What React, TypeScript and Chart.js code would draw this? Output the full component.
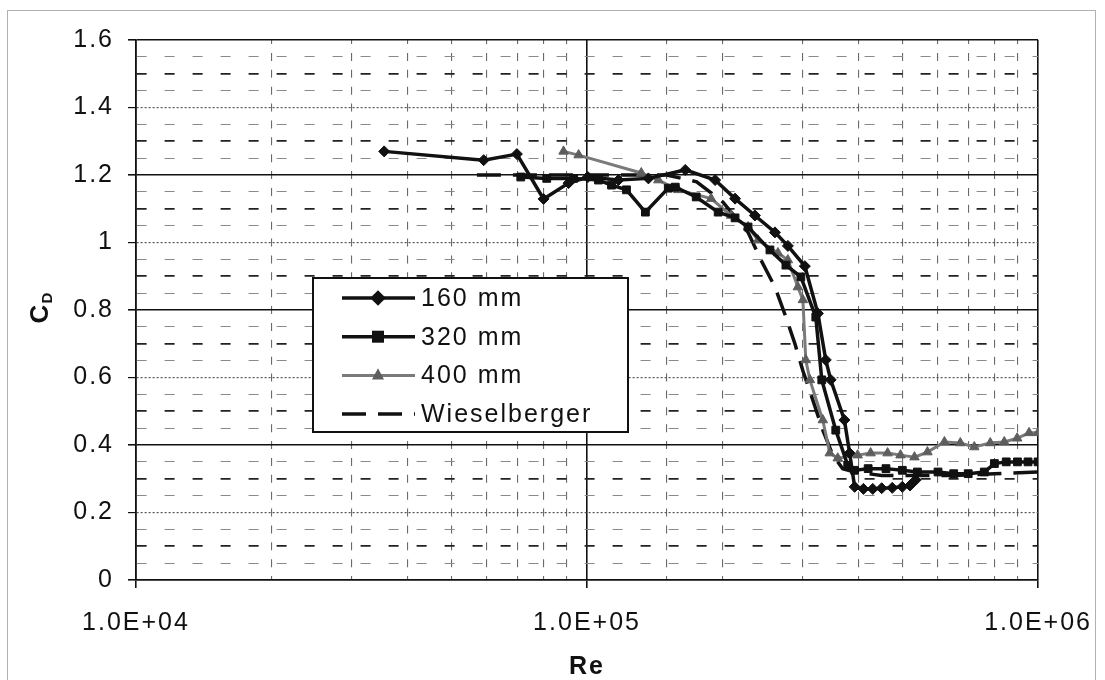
import React, { useEffect, useRef } from "react";
import { Chart, registerables } from "chart.js";

Chart.register(...registerables);

// ---- data (Re, C_D) ----
const re160 = [35500, 59000, 69900, 80100, 91000, 100400, 117400, 136800, 165100, 192300, 212900, 235600, 261000, 278800, 304000, 324900, 338300, 346900, 372000, 382100, 392000, 410000, 430000, 450000, 475000, 500000, 520000, 535000];
const cd160 = [1.27, 1.244, 1.262, 1.129, 1.176, 1.194, 1.185, 1.19, 1.215, 1.185, 1.13, 1.08, 1.03, 0.99, 0.93, 0.79, 0.652, 0.593, 0.474, 0.376, 0.276, 0.27, 0.27, 0.272, 0.273, 0.276, 0.28, 0.296];

const re320 = [71300, 81400, 93400, 106000, 113300, 122300, 134700, 151400, 156900, 174600, 195300, 212900, 227500, 254400, 276000, 297900, 321500, 331500, 356000, 378400, 392000, 420000, 460000, 500000, 540000, 600000, 650000, 700000, 760000, 800000, 850000, 900000, 950000, 1000000];
const cd320 = [1.194, 1.19, 1.19, 1.185, 1.17, 1.156, 1.09, 1.161, 1.164, 1.135, 1.09, 1.073, 1.046, 0.978, 0.933, 0.898, 0.779, 0.593, 0.444, 0.34, 0.325, 0.33, 0.33, 0.325, 0.32, 0.32, 0.315, 0.315, 0.32, 0.345, 0.35, 0.35, 0.35, 0.35];

const re400 = [88700, 95800, 131900, 143900, 159300, 188400, 208700, 227500, 239300, 265000, 278800, 293400, 301000, 305500, 311900, 333200, 345200, 359600, 398100, 425300, 463800, 495500, 532100, 568500, 620000, 672300, 722000, 783300, 841400, 898700, 955000, 1000000];
const cd400 = [1.27, 1.259, 1.206, 1.185, 1.156, 1.13, 1.08, 1.046, 1.007, 0.969, 0.948, 0.868, 0.83, 0.652, 0.593, 0.474, 0.376, 0.361, 0.37, 0.376, 0.376, 0.37, 0.364, 0.379, 0.409, 0.406, 0.394, 0.406, 0.409, 0.42, 0.436, 0.436];

const reWies = [57000, 70000, 85000, 100000, 125000, 150000, 175000, 200000, 227500, 243000, 261000, 276000, 289000, 301000, 316700, 333200, 350600, 368800, 392000, 450000, 550000, 650000, 800000, 1000000];
const cdWies = [1.2, 1.2, 1.2, 1.2, 1.2, 1.2, 1.18, 1.12, 1.03, 0.948, 0.868, 0.779, 0.7, 0.62, 0.533, 0.444, 0.37, 0.33, 0.32, 0.31, 0.31, 0.31, 0.315, 0.32];

const seriesNames = ["160 mm", "320 mm", "400 mm", "Wieselberger"];
const xMin = 1e4;
const xMax = 1e6;
const yMin = 0;
const yMax = 1.6;
const yStep = 0.05;
const xTitle = "Re";
const yTitleMain = "C";
const yTitleSub = "D";

const pts = (xs: number[], ys: number[]) => xs.map((x, i) => ({ x, y: ys[i] }));

const fmtSci = (v: number) => {
  const e = Math.round(Math.log10(v));
  return "1.0E+" + String(e).padStart(2, "0");
};
const isPow10 = (v: number) => {
  const l = Math.log10(v);
  return Math.abs(l - Math.round(l)) < 1e-9;
};
const yk = (v: number) => Math.round(v * 20);

const FONT = "'Liberation Sans', Arial, sans-serif";
const GREY = "#7a7a7a";

function drawMarker(ctx: CanvasRenderingContext2D, style: string, x: number, y: number, r: number, fill: string) {
  ctx.beginPath();
  if (style === "rectRot") {
    ctx.moveTo(x, y - r * 1.3);
    ctx.lineTo(x + r * 1.3, y);
    ctx.lineTo(x, y + r * 1.3);
    ctx.lineTo(x - r * 1.3, y);
  } else if (style === "rect") {
    ctx.rect(x - r, y - r, 2 * r, 2 * r);
  } else if (style === "triangle") {
    ctx.moveTo(x, y - r * 1.2);
    ctx.lineTo(x + r, y + r * 0.7);
    ctx.lineTo(x - r, y + r * 0.7);
  }
  ctx.closePath();
  ctx.fillStyle = fill;
  ctx.fill();
}

const overlayPlugin = {
  id: "overlay",
  beforeDraw(chart: any) {
    chart.ctx.letterSpacing = "2px";
  },
  afterDraw(chart: any) {
    const ctx: CanvasRenderingContext2D = chart.ctx;
    ctx.save();
    ctx.letterSpacing = "0px";
    // y axis title C_D
    ctx.save();
    ctx.translate(41, 314);
    ctx.rotate(-Math.PI / 2);
    ctx.fillStyle = "#111";
    ctx.textAlign = "center";
    ctx.textBaseline = "middle";
    ctx.font = `bold 26px ${FONT}`;
    ctx.fillText(yTitleMain, 0, 0);
    ctx.font = `bold 15px ${FONT}`;
    ctx.fillText(yTitleSub, 16, 7);
    ctx.restore();

    // legend box
    const bx = 313, by = 278, bw = 315, bh = 154;
    ctx.fillStyle = "#fff";
    ctx.fillRect(bx, by, bw, bh);
    ctx.strokeStyle = "#111";
    ctx.lineWidth = 2;
    ctx.strokeRect(bx, by, bw, bh);
    const ds = chart.data.datasets;
    seriesNames.forEach((name, i) => {
      const y = 298 + i * 38.7;
      const d = ds[i];
      ctx.save();
      ctx.strokeStyle = d.borderColor;
      ctx.lineWidth = d.borderWidth;
      ctx.setLineDash(d.borderDash || []);
      ctx.beginPath();
      ctx.moveTo(342, y);
      ctx.lineTo(415, y);
      ctx.stroke();
      ctx.restore();
      if (d.pointRadius > 0) drawMarker(ctx, d.pointStyle, 378, y, d.pointRadius + 0.5, d.pointBackgroundColor);
      ctx.fillStyle = "#111";
      ctx.font = `25px ${FONT}`;
      ctx.letterSpacing = "2px";
      ctx.textAlign = "left";
      ctx.textBaseline = "middle";
      ctx.fillText(name, 421, y + 1);
      ctx.letterSpacing = "0px";
    });
    ctx.restore();
  },
};

export default function App() {
  const ref = useRef<HTMLCanvasElement | null>(null);
  useEffect(() => {
    if (!ref.current) return;
    const chart = new Chart(ref.current, {
      type: "line",
      data: {
        datasets: [
          {
            label: seriesNames[0],
            data: pts(re160, cd160),
            borderColor: "#111",
            borderWidth: 3.5,
            pointStyle: "rectRot",
            pointRadius: 5.5,
            pointBackgroundColor: "#111",
            pointBorderColor: "#111",
            pointBorderWidth: 1,
          },
          {
            label: seriesNames[1],
            data: pts(re320, cd320),
            borderColor: "#111",
            borderWidth: 3.5,
            pointStyle: "rect",
            pointRadius: 5.5,
            pointBackgroundColor: "#111",
            pointBorderColor: "#111",
            pointBorderWidth: 1,
          },
          {
            label: seriesNames[2],
            data: pts(re400, cd400),
            borderColor: GREY,
            borderWidth: 3,
            pointStyle: "triangle",
            pointRadius: 5.5,
            pointBackgroundColor: "#5e5e5e",
            pointBorderColor: "#5e5e5e",
            pointBorderWidth: 1,
          },
          {
            label: seriesNames[3],
            data: pts(reWies, cdWies),
            borderColor: "#111",
            borderWidth: 3.5,
            borderDash: [24, 12],
            pointRadius: 0,
            pointBackgroundColor: "#111",
          },
        ],
      },
      options: {
        responsive: false,
        animation: false,
        devicePixelRatio: 1,
        layout: { padding: { top: 40, right: 61, bottom: 0, left: 0 } },
        plugins: { legend: { display: false }, tooltip: { enabled: false } },
        elements: { line: { tension: 0 } },
        scales: {
          x: {
            type: "logarithmic",
            min: xMin,
            max: xMax,
            afterFit: (s: any) => {
              s.height = 100;
            },
            ticks: {
              autoSkip: false,
              maxRotation: 0,
              padding: 20,
              color: "#111",
              font: { family: FONT, size: 25 },
              callback: (v: any) => (isPow10(Number(v)) ? fmtSci(Number(v)) : ""),
            },
            grid: {
              color: (c: any) => (c.tick && isPow10(c.tick.value) ? "#111" : "#6a6a6a"),
              lineWidth: (c: any) => (c.tick && isPow10(c.tick.value) ? 1.6 : 1.1),
              tickLength: 8,
              tickColor: (c: any) => (c.tick && isPow10(c.tick.value) ? "#111" : "rgba(0,0,0,0)"),
            },
            border: {
              display: true,
              color: "#111",
              width: 1.6,
              dash: (c: any) => (c.tick && !isPow10(c.tick.value) ? [8, 8.875] : []),
              dashOffset: (c: any) => (c.tick && !isPow10(c.tick.value) ? 4 : 0),
            },
            title: {
              display: true,
              text: xTitle,
              color: "#111",
              font: { family: FONT, size: 25, weight: "bold", lineHeight: 1 },
              padding: { top: 0, bottom: 0 },
            },
          },
          y: {
            type: "linear",
            min: yMin,
            max: yMax,
            afterFit: (s: any) => {
              s.width = 136;
            },
            ticks: {
              stepSize: yStep,
              autoSkip: false,
              padding: 14,
              color: "#111",
              font: { family: FONT, size: 25 },
              callback: (v: any) => {
                const k = yk(Number(v));
                return k % 4 === 0 ? String(Math.round(Number(v) * 10) / 10) : "";
              },
            },
            grid: {
              color: (c: any) => {
                if (!c.tick) return "#111";
                const k = yk(c.tick.value);
                if (k % 8 === 0) return "#111";
                if (k % 4 === 0) return "#555";
                if (k % 2 === 0) return "#222";
                return "#8a8a8a";
              },
              lineWidth: (c: any) => {
                if (!c.tick) return 1.6;
                const k = yk(c.tick.value);
                if (k % 8 === 0) return 1.6;
                if (k % 4 === 0) return 1.2;
                if (k % 2 === 0) return 1.8;
                return 1.1;
              },
              tickLength: 8,
              tickColor: (c: any) => (c.tick && yk(c.tick.value) % 4 === 0 ? "#111" : "rgba(0,0,0,0)"),
            },
            border: {
              display: true,
              color: "#111",
              width: 1.6,
              dash: (c: any) => {
                if (!c.tick) return [];
                const k = yk(c.tick.value);
                if (k % 8 === 0) return [];
                if (k % 4 === 0) return [2, 2];
                return [10, 18];
              },
            },
            title: { display: false },
          },
        },
      },
      plugins: [overlayPlugin],
    } as any);
    return () => chart.destroy();
  }, []);

  return (
    <div style={{ position: "fixed", left: 0, top: 0, width: 1105, height: 680, background: "#fff", overflow: "hidden" }}>
      <div
        style={{
          position: "absolute",
          left: 7,
          top: 10,
          width: 1089,
          height: 700,
          border: "1px solid #b0b0b0",
          boxSizing: "border-box",
        }}
      />
      <canvas ref={ref} width={1105} height={680} style={{ position: "absolute", left: 0, top: 0, width: 1105, height: 680 }} />
    </div>
  );
}
